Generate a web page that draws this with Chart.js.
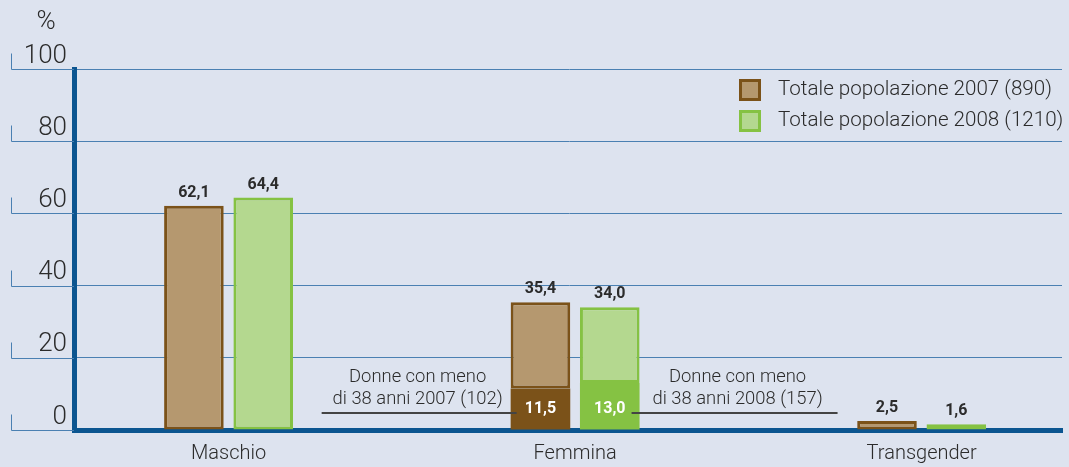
<!DOCTYPE html>
<html>
<head>
<meta charset="utf-8">
<script src="https://cdn.jsdelivr.net/npm/chart.js@4.4.1/dist/chart.umd.min.js"></script>
<style>
  html, body { margin: 0; padding: 0; background: #dde3ef; }
  #wrap { width: 1069px; height: 467px; position: relative; }
</style>
</head>
<body>
<div id="wrap"><canvas id="gender-chart"></canvas></div>
<script>
const categories = ['Maschio', 'Femmina', 'Transgender'];
const total2007 = [62.1, 35.4, 2.5];
const total2008 = [64.4, 34.0, 1.6];
const young2007 = [null, 11.5, null];
const young2008 = [null, 13.0, null];
const yTicks = [0, 20, 40, 60, 80, 100];
const legendLabels = ['Totale popolazione 2007 (890)', 'Totale popolazione 2008 (1210)'];
const noteLeft = ['Donne con meno', 'di 38 anni 2007 (102)'];
const noteRight = ['Donne con meno', 'di 38 anni 2008 (157)'];
const unitLabel = '%';

const BROWN = '#7b5219', BROWN_LIGHT = '#b5986f';
const GREEN = '#85c243', GREEN_LIGHT = '#b4d88f';
const GRID = '#4a80b2', AXIS = '#0b5590', INK = '#2b2b2b';
const LIGHT_FONT = 'Roboto, "Helvetica Neue", Arial, sans-serif';

const fmt = v => v.toFixed(1).replace('.', ',');
const points = arr => arr.map((v, i) => ({ x: i, y: v }));
const rest = (tot, young) => tot.map((v, i) => v - (young[i] || 0));

// grid lines run out to the left edge with a small bracket, plus the "%" unit
const frame = {
    id: 'frame',
    beforeDatasetsDraw(chart) {
        const { ctx, chartArea, scales } = chart;
        ctx.save();
        ctx.strokeStyle = GRID;
        ctx.lineWidth = 1;
        yTicks.forEach(v => {
            const y = Math.round(scales.y.getPixelForValue(v)) + 0.5;
            ctx.beginPath();
            ctx.moveTo(11.5, y - 16);
            ctx.lineTo(11.5, y);
            ctx.lineTo(chartArea.left, y);
            ctx.stroke();
        });
        ctx.fillStyle = INK;
        ctx.font = '300 26px ' + LIGHT_FONT;
        ctx.textAlign = 'center';
        ctx.textBaseline = 'middle';
        ctx.fillText(unitLabel, 46, 22);
        ctx.restore();
    }
};

const barLabels = {
    id: 'barLabels',
    afterDatasetsDraw(chart) {
        const ctx = chart.ctx;
        const base = chart.scales.y.getPixelForValue(0);
        ctx.save();
        ctx.textAlign = 'center';
        ctx.textBaseline = 'middle';
        ctx.font = 'bold 16px ' + LIGHT_FONT;
        [[1, total2007], [3, total2008]].forEach(([di, totals]) => {
            chart.getDatasetMeta(di).data.forEach((bar, i) => {
                ctx.fillStyle = INK;
                ctx.fillText(fmt(totals[i]), bar.x, bar.y - 13);
            });
        });
        [[0, young2007], [2, young2008]].forEach(([di, vals]) => {
            chart.getDatasetMeta(di).data.forEach((bar, i) => {
                if (vals[i] == null) return;
                ctx.fillStyle = '#ffffff';
                ctx.fillText(fmt(vals[i]), bar.x, base - 21);
            });
        });
        ctx.restore();
    }
};

const notes = {
    id: 'notes',
    afterDatasetsDraw(chart) {
        const ctx = chart.ctx;
        const base = chart.scales.y.getPixelForValue(0);
        const fi = categories.indexOf('Femmina');
        const b07 = chart.getDatasetMeta(0).data[fi];
        const b08 = chart.getDatasetMeta(2).data[fi];
        const left = b07.x - b07.width / 2;
        const right = b08.x + b08.width / 2;
        const ly = Math.round(base - 17);
        ctx.save();
        ctx.strokeStyle = '#444444';
        ctx.lineWidth = 2;
        ctx.beginPath();
        ctx.moveTo(left - 189, ly);
        ctx.lineTo(left + 6, ly);
        ctx.moveTo(right - 8, ly);
        ctx.lineTo(right + 198, ly);
        ctx.stroke();
        ctx.fillStyle = INK;
        ctx.font = '300 18.4px ' + LIGHT_FONT;
        ctx.textAlign = 'center';
        ctx.textBaseline = 'alphabetic';
        noteLeft.forEach((t, k) => ctx.fillText(t, left - 93, base - 48 + k * 22));
        noteRight.forEach((t, k) => ctx.fillText(t, right + 98, base - 48 + k * 22));
        ctx.restore();
    }
};

const boxLegend = {
    id: 'boxLegend',
    afterDraw(chart) {
        const ctx = chart.ctx;
        const swatches = [[BROWN_LIGHT, BROWN], [GREEN_LIGHT, GREEN]];
        ctx.save();
        ctx.font = '300 20.6px ' + LIGHT_FONT;
        ctx.textBaseline = 'middle';
        ctx.textAlign = 'left';
        legendLabels.forEach((label, i) => {
            const y = 79 + i * 31;
            ctx.fillStyle = swatches[i][0];
            ctx.fillRect(739, y, 22, 22);
            ctx.strokeStyle = swatches[i][1];
            ctx.lineWidth = 3;
            ctx.strokeRect(740.5, y + 1.5, 19, 19);
            ctx.fillStyle = INK;
            ctx.fillText(label, 778, y + 11);
        });
        ctx.restore();
    }
};

new Chart(document.getElementById('gender-chart'), {
    type: 'bar',
    data: {
        datasets: [{
            label: 'young2007',
            data: points(young2007),
            stack: 's2007',
            backgroundColor: BROWN,
            borderWidth: 0
        }, {
            label: legendLabels[0],
            data: points(rest(total2007, young2007)),
            stack: 's2007',
            backgroundColor: BROWN_LIGHT,
            borderColor: BROWN,
            borderWidth: 3,
            borderSkipped: false
        }, {
            label: 'young2008',
            data: points(young2008),
            stack: 's2008',
            backgroundColor: GREEN,
            borderWidth: 0
        }, {
            label: legendLabels[1],
            data: points(rest(total2008, young2008)),
            stack: 's2008',
            backgroundColor: GREEN_LIGHT,
            borderColor: GREEN,
            borderWidth: 3,
            borderSkipped: false
        }]
    },
    options: {
        responsive: true,
        maintainAspectRatio: false,
        animation: false,
        categoryPercentage: 0.4,
        barPercentage: 0.86,
        layout: { padding: { top: 69, right: 7, left: 0, bottom: 0 } },
        plugins: {
            legend: { display: false },
            tooltip: { enabled: false }
        },
        scales: {
            x: {
                type: 'linear',
                stacked: true,
                offset: false,
                min: -0.446,
                max: 2.405,
                z: 1,
                afterBuildTicks: scale => { scale.ticks = categories.map((c, i) => ({ value: i })); },
                afterFit: scale => { scale.height = 37; },
                grid: { display: false, drawTicks: false },
                border: { display: true, color: AXIS, width: 5 },
                ticks: {
                    padding: 12,
                    color: INK,
                    font: { family: LIGHT_FONT, size: 20, weight: '300' },
                    callback: v => categories[v]
                }
            },
            y: {
                stacked: true,
                min: 0,
                max: 100,
                afterBuildTicks: scale => { scale.ticks = yTicks.map(v => ({ value: v })); },
                afterFit: scale => { scale.width = 74; },
                grid: { color: GRID, lineWidth: 1, drawTicks: false },
                border: { display: true, color: AXIS, width: 5 },
                ticks: {
                    padding: 7,
                    labelOffset: -13,
                    color: INK,
                    font: { family: LIGHT_FONT, size: 26, weight: '300' }
                }
            }
        }
    },
    plugins: [frame, barLabels, notes, boxLegend]
});
</script>
</body>
</html>
